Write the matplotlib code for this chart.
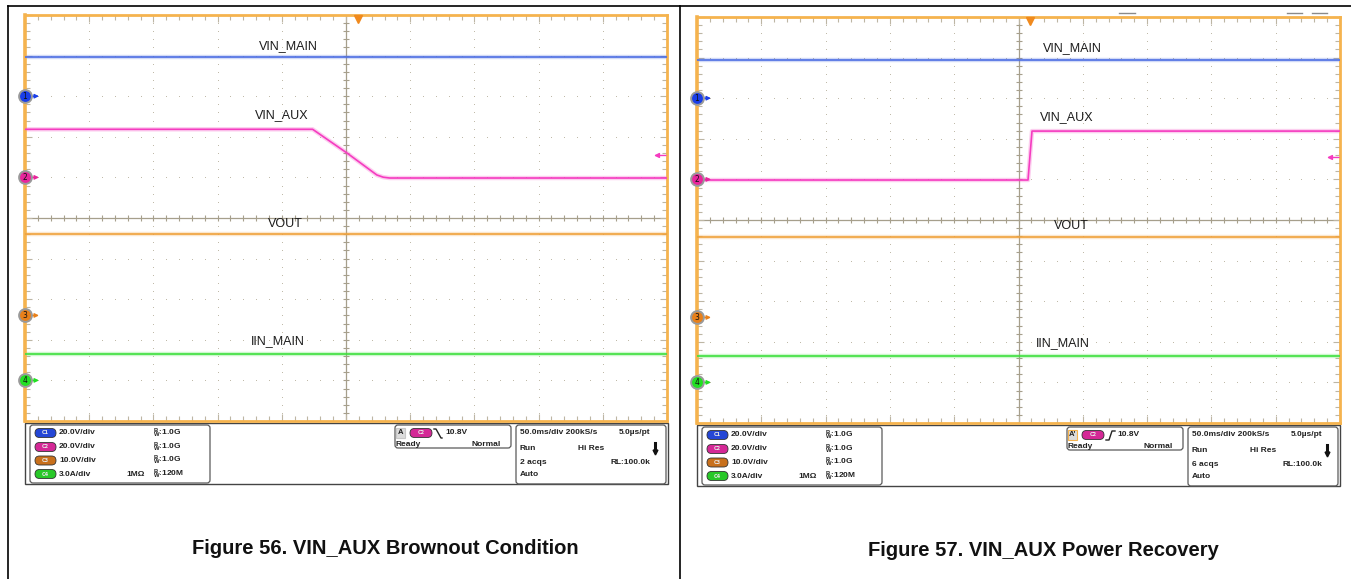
import numpy as np
import matplotlib
matplotlib.use("Agg")
import matplotlib.pyplot as plt
from matplotlib.patches import FancyBboxPatch, Rectangle
from matplotlib.transforms import offset_copy

W, H = 1351, 579

# both captures: 50 ms/div, 10 div, trigger point at t = 0
T_SPAN = [-259, 241]

# channel setup (units per div, ground marker position in div)
CH_NAMES = ["VIN_MAIN", "VIN_AUX", "VOUT", "IIN_MAIN"]
CH_SCALE = [20.0, 20.0, 10.0, 3.0]
CH_OFFSET = [3.0, 1.0, -2.4, -4.0]
CH_SETTING = ["20.0V/div", "20.0V/div", "10.0V/div", "3.0A/div"]
CH_BW = ["1.0G", "1.0G", "1.0G", "120M"]
TRIG_LEVEL = 10.8  # V on C2

# Figure 56 - brownout
f56_vin_main = [19.3, 19.3]
f56_aux_t = [-259, -35, -8, 15, 20, 25, 241]
f56_aux_v = [23.7, 23.7, 11.9, 1.2, 0.1, -0.3, -0.3]
f56_vout = [20.0, 20.0]
f56_iin = [1.95, 1.95]

# Figure 57 - recovery
f57_vin_main = [18.9, 18.9]
f57_aux_t = [-259, -1.6, 1.5, 241]
f57_aux_v = [-0.3, -0.3, 23.8, 23.8]
f57_vout = [19.8, 19.8]
f57_iin = [1.95, 1.95]

TRACE_COL = ["#4d6fe3", "#f53cc0", "#f0a23c", "#3ee03e"]
MARK_COL = ["#1a3ee8", "#e8259c", "#e8801a", "#22e022"]
PILL_COL = ["#2446d6", "#d42896", "#c8701c", "#28c828"]
FRAME = "#f5b34e"
GRID = "#bdb6a4"
INFO_FONT = ["Liberation Sans Narrow", "Liberation Sans", "DejaVu Sans"]


def frac(x0, y0, x1, y1):
    return [x0 / W, 1 - y1 / H, (x1 - x0) / W, (y1 - y0) / H]


def draw_scope(ax, traces, label_pos):
    t0, t1 = T_SPAN
    ax.set_xlim(t0, t1)
    ax.set_ylim(-5, 5)
    ax.set_xticks(np.arange(t0, t1 + 1, 50))
    ax.set_xticks(np.arange(t0, t1 + 1, 10), minor=True)
    ax.set_yticks(np.arange(-5, 5.01, 1))
    ax.set_yticks(np.arange(-5, 5.01, 0.2), minor=True)
    ax.tick_params(which="both", direction="in", top=True, right=True,
                   labelbottom=False, labelleft=False, color=GRID, width=0.8)
    ax.tick_params(which="major", length=5)
    ax.tick_params(which="minor", length=3.5)
    for s in ax.spines.values():
        s.set_color(FRAME)
        s.set_linewidth(2.0)
    ax.spines["left"].set_linewidth(2.6)

    tc = t0 + 250
    xs = np.arange(t0, t1 + 0.1, 10)
    ys = np.arange(-5, 5.01, 0.2)
    for k in range(-4, 5):
        if k == 0:
            continue
        ax.scatter(xs, np.full_like(xs, k, dtype=float), s=0.5, color=GRID,
                   linewidths=0, zorder=1)
        ax.scatter(np.full_like(ys, t0 + 50 * (k + 5)), ys, s=0.5, color=GRID,
                   linewidths=0, zorder=1)
    ax.axhline(0, color="#a69f8c", lw=0.9, zorder=1)
    ax.axvline(tc, color="#a69f8c", lw=0.9, zorder=1)
    ax.scatter(xs, np.zeros_like(xs), marker="|", s=14, color="#a69f8c", lw=0.8, zorder=1)
    ax.scatter(np.full_like(ys, tc), ys, marker="_", s=14, color="#a69f8c", lw=0.8, zorder=1)

    for i, (t, v) in enumerate(traces):
        y = np.asarray(v) / CH_SCALE[i] + CH_OFFSET[i]
        ax.plot(t, y, color=TRACE_COL[i], lw=3.2, alpha=0.25, zorder=2)
        ax.plot(t, y, color=TRACE_COL[i], lw=1.2, zorder=3)
        lx, ly = label_pos[i]
        ax.text(lx, ly, CH_NAMES[i], ha="center", va="center", fontsize=9,
                family="Liberation Sans", color="#1c1c1c", zorder=4)

    # channel ground markers on the left edge
    fig = ax.figure
    for i in range(4):
        off = CH_OFFSET[i]
        ax.annotate("", xy=(t0, off), xytext=(t0, off),
                    xycoords=offset_copy(ax.transData, fig=fig, x=14, y=0, units="dots"),
                    textcoords=offset_copy(ax.transData, fig=fig, x=4, y=0, units="dots"),
                    arrowprops=dict(arrowstyle="-|>", color=MARK_COL[i], lw=1,
                                    mutation_scale=6, shrinkA=0, shrinkB=0),
                    annotation_clip=False, zorder=6)
        ax.scatter([t0], [off], s=85, color=MARK_COL[i], edgecolors="#9a9a9a",
                   linewidths=1.4, clip_on=False, zorder=7)
        ax.text(t0, off, str(i + 1), ha="center", va="center", fontsize=5.5,
                color="#111", clip_on=False, zorder=8)

    # trigger level arrow (right edge) and trigger position (top)
    lvl = TRIG_LEVEL / CH_SCALE[1] + CH_OFFSET[1]
    ax.annotate("", xy=(t1, lvl), xytext=(t1, lvl),
                xycoords=offset_copy(ax.transData, fig=fig, x=-13, y=0, units="dots"),
                textcoords=offset_copy(ax.transData, fig=fig, x=-1, y=0, units="dots"),
                arrowprops=dict(arrowstyle="-|>", color=TRACE_COL[1], lw=1,
                                mutation_scale=7, shrinkA=0, shrinkB=0),
                annotation_clip=False, zorder=6)
    ax.plot([0], [5], marker="v", ms=6, color="#f08a1e", clip_on=False, zorder=6,
            transform=offset_copy(ax.transData, fig=fig, x=0, y=-4, units="dots"))


def rbox(ov, x, y, w, h, r=3, ec="#5a5a5a", fc="none", lw=0.9):
    ov.add_patch(FancyBboxPatch((x, y), w, h, boxstyle=f"round,pad=0,rounding_size={r}",
                                ec=ec, fc=fc, lw=lw))


def info_text(ov, x, y, s, ha="left", size=6):
    ov.text(x, y, s, ha=ha, va="center", fontsize=size, fontweight="bold",
            family=INFO_FONT, color="#222")


def draw_info(ov, X0, Y0, rising, acqs):
    ov.add_patch(Rectangle((X0, Y0 - 2), 643, 61, fc="none", ec="#444", lw=1.0))
    # channel box
    rbox(ov, X0 + 5, Y0, 180, 58)
    rows = [Y0 + 8, Y0 + 22, Y0 + 35.5, Y0 + 49]
    for i, yy in enumerate(rows):
        rbox(ov, X0 + 10, yy - 4.5, 21, 9, r=4.5, ec="#333", fc=PILL_COL[i], lw=0.6)
        ov.text(X0 + 20.5, yy, f"C{i + 1}", ha="center", va="center", fontsize=3.6,
                color="#e6e6e6", fontweight="bold")
        info_text(ov, X0 + 34, yy, CH_SETTING[i])
        info_text(ov, X0 + 128, yy, r"$\mathregular{^B_W}$:" + CH_BW[i])
    info_text(ov, X0 + 120, rows[3], "1MΩ", ha="right")

    # trigger box
    rbox(ov, X0 + 370, Y0, 116, 23)
    a_ec = FRAME if rising else "#c8c8c8"
    ov.add_patch(Rectangle((X0 + 371, Y0 + 3), 9, 10, fc="#dcdcdc", ec=a_ec, lw=0.8))
    info_text(ov, X0 + 375.5, Y0 + 8, "A'" if rising else "A", ha="center", size=5.5)
    rbox(ov, X0 + 385, Y0 + 3.5, 22, 9, r=4.5, ec="#333", fc=PILL_COL[1], lw=0.6)
    ov.text(X0 + 396, Y0 + 8, "C2", ha="center", va="center", fontsize=3.6,
            color="#e6e6e6", fontweight="bold")
    if rising:
        ov.plot([X0 + 409, X0 + 412, X0 + 415, X0 + 418],
                [Y0 + 13, Y0 + 13, Y0 + 4, Y0 + 4], color="#222", lw=1.0)
    else:
        ov.plot([X0 + 409, X0 + 411, X0 + 416, X0 + 417],
                [Y0 + 4, Y0 + 4, Y0 + 13, Y0 + 13], color="#222", lw=1.0)
    info_text(ov, X0 + 420, Y0 + 8, "10.8V")
    info_text(ov, X0 + 371, Y0 + 19, "Ready")
    info_text(ov, X0 + 476, Y0 + 19, "Normal", ha="right")

    # timebase box
    rbox(ov, X0 + 491, Y0, 150, 59)
    info_text(ov, X0 + 495, Y0 + 8, "50.0ms/div 200kS/s")
    info_text(ov, X0 + 625, Y0 + 8, "5.0µs/pt", ha="right")
    info_text(ov, X0 + 495, Y0 + 23, "Run")
    info_text(ov, X0 + 553, Y0 + 23, "Hi Res")
    ov.plot([X0 + 630, X0 + 630], [Y0 + 18, Y0 + 26], color="#111", lw=2.2)
    ov.plot([X0 + 630], [Y0 + 27], marker="v", ms=3.5, color="#111")
    info_text(ov, X0 + 495, Y0 + 37, acqs)
    info_text(ov, X0 + 625, Y0 + 37, "RL:100.0k", ha="right")
    info_text(ov, X0 + 495, Y0 + 50, "Auto")


fig = plt.figure(figsize=(W / 100, H / 100), dpi=100)
ov = fig.add_axes([0, 0, 1, 1], zorder=0)
ov.set_xlim(0, W)
ov.set_ylim(H, 0)
ov.axis("off")

# page borders
ov.plot([8, 8], [6, H], color="#000", lw=1.2)
ov.plot([680, 680], [6, H], color="#000", lw=1.2)
ov.plot([8, W], [6, 6], color="#000", lw=1.2)
for x0, x1 in [(1119, 1135), (1287, 1302), (1312, 1327)]:
    ov.plot([x0, x1], [13, 13], color="#8a8a8a", lw=1.0)

ax1 = fig.add_axes(frac(25, 15, 667, 421), zorder=2)
draw_scope(ax1,
           [(T_SPAN, f56_vin_main), (f56_aux_t, f56_aux_v), (T_SPAN, f56_vout), (T_SPAN, f56_iin)],
           [(-54, 4.24), (-59, 2.54), (-56.5, -0.15), (-62, -3.03)])
ax2 = fig.add_axes(frac(697, 17, 1340, 423), zorder=2)
draw_scope(ax2,
           [(T_SPAN, f57_vin_main), (f57_aux_t, f57_aux_v), (T_SPAN, f57_vout), (T_SPAN, f57_iin)],
           [(32.6, 4.24), (28.7, 2.54), (31.8, -0.15), (25.6, -3.03)])

draw_info(ov, 25, 425, rising=False, acqs="2 acqs")
draw_info(ov, 697, 427, rising=True, acqs="6 acqs")

ov.text(385, 549, "Figure 56. VIN_AUX Brownout Condition", ha="center", va="center",
        fontsize=14.5, fontweight="bold", family="Liberation Sans", color="#111")
ov.text(1043, 551, "Figure 57. VIN_AUX Power Recovery", ha="center", va="center",
        fontsize=14.5, fontweight="bold", family="Liberation Sans", color="#111")

fig.savefig("out.png", dpi=100)
